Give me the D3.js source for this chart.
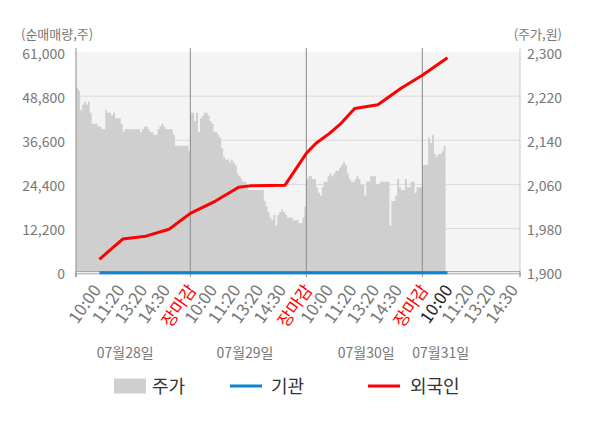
<!DOCTYPE html>
<html>
<head>
  <meta charset='utf-8'>
  <title>순매매량 / 주가</title>
  <script src='https://cdn.jsdelivr.net/npm/d3@7/dist/d3.min.js'></script>
  <style type='text/css'>
    body { margin: 0; background: #fff; }
    svg text { font-family: 'Noto Sans CJK KR', 'Noto Sans', sans-serif; }
  </style>
  <script>
    // price (주가) per time slot, one array per trading day
    const dayStarts = [1, 60, 120, 180];
    const priceDay1 = [
        2235, 2230, 2195, 2205, 2210, 2205, 2210, 2190, 2170, 2170,
        2170, 2165, 2165, 2160, 2160, 2195, 2190, 2190, 2185, 2190,
        2180, 2180, 2180, 2170, 2155, 2160, 2160, 2160, 2160, 2160,
        2160, 2160, 2160, 2155, 2160, 2165, 2165, 2160, 2155, 2155,
        2150, 2150, 2160, 2165, 2170, 2165, 2160, 2160, 2160, 2160,
        2150, 2130, 2130, 2130, 2130, 2130, 2130, 2130, 2120];
    const priceDay2 = [
        2190, 2190, 2175, 2190, 2155, 2180, 2185, 2190, 2190, 2185,
        2175, 2170, 2155, 2155, 2150, 2145, 2125, 2110, 2105, 2105,
        2100, 2105, 2100, 2095, 2080, 2075, 2070, 2065, 2065, 2060,
        2050, 2050, 2050, 2050, 2050, 2050, 2050, 2050, 2030, 2020,
        2010, 2000, 1995, 2005, 1985, 2005, 2010, 2015, 2010, 2005,
        2000, 2000, 2000, 1995, 1995, 1995, 1990, 1990, 2000, 2020];
    const priceDay3 = [
        2070, 2075, 2075, 2070, 2070, 2055, 2045, 2040, 2055, 2065,
        2065, 2075, 2080, 2075, 2080, 2085, 2085, 2090, 2095, 2100,
        2095, 2080, 2070, 2065, 2065, 2070, 2075, 2070, 2060, 2060,
        2040, 2065, 2065, 2075, 2075, 2075, 2060, 2060, 2065, 2065,
        2065, 2065, 2065, 1985, 2030, 2030, 2040, 2070, 2055, 2050,
        2050, 2070, 2055, 2055, 2065, 2065, 2045, 2055, 2055, 2055];
    const priceDay4 = [
        2095, 2095, 2095, 2145, 2135, 2150, 2115, 2110, 2115, 2115,
        2120, 2130];

    // cumulative net buying (순매매량, 주)
    const flowIdx = [13, 25, 37, 49, 60, 73, 85, 91, 109, 120, 125, 132,
        138, 145, 157, 169, 180, 193];
    const foreignNet = [3700, 9300, 10100, 12000, 16400, 19800, 23600,
        24000, 24200, 33000, 35800, 38500, 41300, 45400, 46400, 51000,
        54600, 59400];
    const institutionNet = [0, 0, 0, 0, 0, 0, 0, 0, 0, 0, 0, 0, 0, 0, 0,
        0, 0, 0];

    // axes
    const leftTicks = [0, 12200, 24400, 36600, 48800, 61000];
    const rightTicks = [1900, 1980, 2060, 2140, 2220, 2300];
    const dayBounds = [60, 120, 180];
    const timeTickIdx = [10.6, 22.8, 34.6, 46.4, 60, 70.6, 82.8, 94.6,
        106.4, 120, 130.6, 142.8, 154.6, 166.4, 180, 192.4, 203.6, 214.8,
        226.3];
    const timeTickLabels = ['10:00', '11:20', '13:20', '14:30', '장마감',
        '10:00', '11:20', '13:20', '14:30', '장마감',
        '10:00', '11:20', '13:20', '14:30', '장마감',
        '10:00', '11:20', '13:20', '14:30'];
    const dateIdx = [26.3, 88.3, 151, 189.5];
    const dateLabels = ['07월28일', '07월29일', '07월30일', '07월31일'];
    const legendLabels = ['주가', '기관', '외국인'];
  </script>
</head>
<body>
  <div id='plot-container'></div>
  <script>
    const W = 600, H = 428;
    const plot = { left: 76, right: 520, top: 52, bottom: 272.7 };
    const svg = d3.select('#plot-container').append('svg')
        .attr('width', W)
        .attr('height', H);
    svg.append('rect').attr('width', W).attr('height', H).attr('fill', '#fff');

    const x = d3.scaleLinear()
        .domain([0, 230])
        .range([74.3, 519]);
    const yLeft = d3.scaleLinear()
        .domain([0, 61000])
        .range([plot.bottom, plot.top]);
    const yRight = d3.scaleLinear()
        .domain([1900, 2300])
        .range([plot.bottom, plot.top]);

    // plot background + horizontal grid
    svg.append('rect')
        .attr('x', plot.left).attr('y', plot.top)
        .attr('width', plot.right - plot.left)
        .attr('height', plot.bottom - plot.top)
        .attr('fill', '#f4f4f4');
    svg.append('g').selectAll('line')
        .data(leftTicks.slice(1, -1))
        .enter().append('line')
        .attr('x1', plot.left).attr('x2', plot.right)
        .attr('y1', d => yLeft(d)).attr('y2', d => yLeft(d))
        .attr('stroke', '#dadada');

    // price area
    const priceSeries = [];
    [priceDay1, priceDay2, priceDay3, priceDay4].forEach((arr, k) => {
        arr.forEach((p, i) => priceSeries.push({ t: dayStarts[k] + i, p: p }));
    });
    const lastPt = priceSeries[priceSeries.length - 1];
    priceSeries.push({ t: lastPt.t + 1, p: lastPt.p });
    svg.append('path')
        .datum(priceSeries)
        .attr('fill', '#cfcfcf')
        .attr('d', d3.area()
            .curve(d3.curveStepAfter)
            .x(d => x(d.t))
            .y0(yRight(1900))
            .y1(d => yRight(d.p)));

    // vertical day separators and left/right axis lines
    svg.append('g').selectAll('line')
        .data(dayBounds)
        .enter().append('line')
        .attr('x1', d => x(d)).attr('x2', d => x(d))
        .attr('y1', 48).attr('y2', 277)
        .attr('stroke', '#8a8a8a');
    svg.append('line')
        .attr('x1', plot.left).attr('x2', plot.left)
        .attr('y1', 48).attr('y2', 277)
        .attr('stroke', '#8a8a8a');
    svg.append('line')
        .attr('x1', plot.right).attr('x2', plot.right)
        .attr('y1', 48).attr('y2', 277)
        .attr('stroke', '#cccccc');

    // baseline
    svg.append('rect')
        .attr('x', plot.left).attr('y', plot.bottom - 1.2)
        .attr('width', plot.right - plot.left).attr('height', 2.4)
        .attr('fill', '#eeeeee')
        .attr('stroke', '#999999')
        .attr('stroke-width', 0.8);

    // net buying lines
    const flowLine = (values) => d3.line()
        .x((d, i) => x(flowIdx[i]))
        .y(d => yLeft(d))(values);
    svg.append('path')
        .attr('d', flowLine(institutionNet))
        .attr('fill', 'none')
        .attr('stroke', '#0b84d2')
        .attr('stroke-width', 3);
    svg.append('path')
        .attr('d', flowLine(foreignNet))
        .attr('fill', 'none')
        .attr('stroke', '#ff0000')
        .attr('stroke-width', 3)
        .attr('stroke-linejoin', 'round');

    // y axes
    const fmt = d3.format(',');
    const leftAxis = svg.append('g')
        .attr('transform', `translate(${plot.left}, 1.8)`)
        .call(d3.axisLeft(yLeft).tickValues(leftTicks).tickFormat(fmt)
            .tickSize(0).tickPadding(11));
    const rightAxis = svg.append('g')
        .attr('transform', `translate(${plot.right}, 1.8)`)
        .call(d3.axisRight(yRight).tickValues(rightTicks).tickFormat(fmt)
            .tickSize(0).tickPadding(7));
    [leftAxis, rightAxis].forEach(a => {
        a.select('.domain').remove();
        a.selectAll('text')
            .attr('font-size', 14)
            .attr('fill', '#777')
            .style('font-family', "'Noto Sans CJK KR', 'Noto Sans', sans-serif");
    });
    svg.append('text')
        .attr('x', 21).attr('y', 39)
        .attr('font-size', 13).attr('fill', '#777')
        .text('(순매매량,주)');
    svg.append('text')
        .attr('x', 562).attr('y', 39)
        .attr('text-anchor', 'end')
        .attr('font-size', 13).attr('fill', '#777')
        .text('(주가,원)');

    // small tick marks below baseline
    svg.append('g').selectAll('line')
        .data([plot.left, plot.right])
        .enter().append('line')
        .attr('x1', d => d).attr('x2', d => d)
        .attr('y1', plot.bottom).attr('y2', 277)
        .attr('stroke', '#8a8a8a');

    // time labels
    svg.append('g').selectAll('text')
        .data(timeTickIdx)
        .enter().append('text')
        .attr('transform', d => `translate(${x(d) + 7}, 290) rotate(-55)`)
        .attr('text-anchor', 'end')
        .attr('font-size', 17)
        .attr('fill', (d, i) => timeTickLabels[i] === '장마감' ? '#ff0000'
            : (i === 15 ? '#222' : '#777'))
        .text((d, i) => timeTickLabels[i]);

    // date labels
    svg.append('g').selectAll('text')
        .data(dateIdx)
        .enter().append('text')
        .attr('x', d => x(d)).attr('y', 358)
        .attr('text-anchor', 'middle')
        .attr('font-size', 14)
        .attr('fill', '#777')
        .text((d, i) => dateLabels[i]);

    // legend
    const legend = svg.append('g');
    legend.append('rect')
        .attr('x', 114).attr('y', 378.5).attr('width', 32).attr('height', 15)
        .attr('fill', '#cfcfcf');
    legend.append('line')
        .attr('x1', 230).attr('x2', 262).attr('y1', 386).attr('y2', 386)
        .attr('stroke', '#0b84d2').attr('stroke-width', 3);
    legend.append('line')
        .attr('x1', 368).attr('x2', 400).attr('y1', 386).attr('y2', 386)
        .attr('stroke', '#ff0000').attr('stroke-width', 3);
    legend.selectAll('text')
        .data(legendLabels)
        .enter().append('text')
        .attr('x', (d, i) => [152, 271, 410][i])
        .attr('y', 392.5)
        .attr('font-size', 18)
        .attr('fill', '#333')
        .text(d => d);
  </script>
</body>
</html>
